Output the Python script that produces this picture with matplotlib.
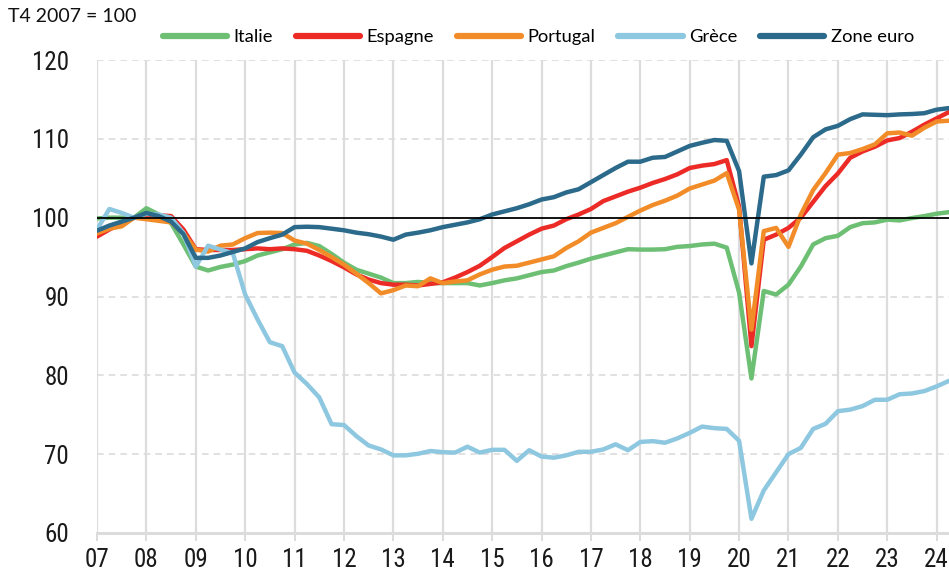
import numpy as np
import matplotlib
matplotlib.use("Agg")
import matplotlib.pyplot as plt
from matplotlib import font_manager

# ---------------- data (T4 2007 = 100), quarterly 2007 T1 .. 2024 T2 ----------------
start_year = 2007
series_names = ["Italie", "Espagne", "Portugal", "Grèce", "Zone euro"]

italie = [99.9, 100.0, 100.0, 100.0,
          101.2, 100.4, 99.3, 96.6,
          93.8, 93.3, 93.75, 94.05,
          94.5, 95.2, 95.6, 96.0,
          96.6, 96.8, 96.4, 95.4,
          94.3, 93.4, 92.9, 92.4,
          91.7, 91.7, 91.85, 91.7,
          91.7, 91.7, 91.7, 91.4,
          91.7, 92.05, 92.3, 92.7,
          93.1, 93.3, 93.85, 94.3,
          94.8, 95.2, 95.6, 96.0,
          95.95, 95.95, 96.0, 96.3,
          96.4, 96.6, 96.7, 96.2,
          90.5, 79.6, 90.7, 90.25,
          91.5, 93.8, 96.6, 97.4,
          97.7, 98.8, 99.3, 99.4,
          99.75, 99.65, 99.95, 100.2,
          100.5, 100.7]

espagne = [97.6, 98.5, 99.3, 100.0,
           100.4, 100.3, 100.2, 98.5,
           96.0, 95.9, 95.9, 95.9,
           96.0, 96.1, 96.0, 96.1,
           96.0, 95.8, 95.2, 94.5,
           93.7, 92.8, 92.15, 91.7,
           91.5, 91.5, 91.4, 91.6,
           91.8, 92.4, 93.1, 93.9,
           95.0, 96.15, 97.0, 97.85,
           98.6, 99.0, 99.8, 100.4,
           101.1, 102.1, 102.7, 103.3,
           103.8, 104.4, 104.9, 105.5,
           106.3, 106.6, 106.8, 107.3,
           101.4, 83.7, 97.2, 97.85,
           98.7, 100.0, 102.0, 104.0,
           105.6, 107.6, 108.4, 109.0,
           109.8, 110.1, 110.9, 111.8,
           112.6, 113.4]

portugal = [98.0, 98.6, 98.9, 100.0,
            99.8, 99.6, 99.4, 98.05,
            95.95, 95.7, 96.45, 96.6,
            97.4, 98.05, 98.1, 98.05,
            97.1, 96.7, 95.9, 95.0,
            94.05, 92.9, 91.7, 90.4,
            90.8, 91.4, 91.3, 92.3,
            91.7, 91.9, 92.05, 92.8,
            93.4, 93.8, 93.9, 94.3,
            94.7, 95.1, 96.15, 97.0,
            98.1, 98.7, 99.3, 100.1,
            100.9, 101.6, 102.15, 102.8,
            103.7, 104.2, 104.7, 105.65,
            101.0, 85.8, 98.3, 98.7,
            96.3, 100.4, 103.5, 105.65,
            108.0, 108.2, 108.7, 109.3,
            110.7, 110.8, 110.4, 111.4,
            112.2, 112.3]

grece = [98.5, 101.1, 100.6, 100.0,
         100.5, 100.4, 100.0, 98.05,
         93.8, 96.45, 95.95, 95.5,
         90.25, 87.1, 84.2, 83.7,
         80.35, 78.9, 77.2, 73.8,
         73.7, 72.3, 71.1, 70.6,
         69.85, 69.85, 70.05, 70.4,
         70.25, 70.2, 70.95, 70.2,
         70.55, 70.55, 69.15, 70.5,
         69.7, 69.55, 69.85, 70.3,
         70.3, 70.6, 71.25, 70.5,
         71.55, 71.65, 71.45, 72.0,
         72.7, 73.5, 73.3, 73.2,
         71.7, 61.8, 65.4, 67.7,
         70.0, 70.8, 73.2, 73.85,
         75.45, 75.65, 76.1, 76.9,
         76.9, 77.6, 77.7, 78.0,
         78.6, 79.3]

zone_euro = [98.35, 99.0, 99.5, 100.0,
             100.6, 100.2, 99.5, 97.9,
             94.9, 94.9, 95.2, 95.65,
             96.1, 96.9, 97.4, 97.85,
             98.8, 98.85, 98.8, 98.6,
             98.4, 98.1, 97.9, 97.6,
             97.2, 97.85, 98.1, 98.4,
             98.8, 99.1, 99.4, 99.8,
             100.4, 100.8, 101.2, 101.7,
             102.3, 102.6, 103.2, 103.6,
             104.5, 105.4, 106.3, 107.1,
             107.1, 107.6, 107.7, 108.4,
             109.1, 109.5, 109.85, 109.75,
             105.9, 94.2, 105.2, 105.4,
             106.0, 108.0, 110.2, 111.2,
             111.65, 112.5, 113.1, 113.05,
             113.0, 113.1, 113.15, 113.25,
             113.7, 113.9]

year_ticks = list(range(2007, 2025))
year_labels = [f"{y % 100:02d}" for y in year_ticks]
y_ticks = [60, 70, 80, 90, 100, 110, 120]

colors = ["#6dbf74", "#ec2b27", "#f28c28", "#8ec8e0", "#2b6a8a"]

# ---------------- fonts ----------------
avail = {f.name for f in font_manager.fontManager.ttflist}
fam = "DejaVu Sans"
for cand in ["Liberation Sans Narrow", "Roboto Condensed", "Open Sans Condensed", "Liberation Sans"]:
    if cand in avail:
        fam = cand
        break
plt.rcParams["font.family"] = [fam, "DejaVu Sans"]
legend_fam = "Lato" if "Lato" in avail else fam

# ---------------- figure ----------------
W, H = 949, 576
fig = plt.figure(figsize=(W / 100, H / 100), dpi=100)
ax = fig.add_axes([97 / W, 1 - 533 / H, 1 - 97 / W, (533 - 60) / H])

x = start_year + np.arange(len(zone_euro)) / 4.0
ax.set_xlim(2007, 2024.25)
ax.set_ylim(60, 120)

grid_c = "#dcdcdc"
for v in [70, 80, 90, 110, 120]:
    ax.axhline(v, color=grid_c, lw=1.2, ls=(0, (4, 3)), zorder=0)
for yr in year_ticks:
    ax.axvline(yr, color=grid_c, lw=1.6, zorder=0)

all_series = [italie, espagne, portugal, grece, zone_euro]
handles = []
for name, vals, c in zip(series_names, all_series, colors):
    h, = ax.plot(x, vals, color=c, lw=3.2, label=name, solid_joinstyle="round",
                 solid_capstyle="round", zorder=3, clip_on=True)
    handles.append(h)

ax.axhline(100, color="black", lw=1.3, zorder=6)

for s in ["left", "right", "top"]:
    ax.spines[s].set_visible(False)
ax.spines["bottom"].set_color(grid_c)
ax.spines["bottom"].set_linewidth(2.2)

ax.set_xticks(year_ticks)
ax.set_xticklabels(year_labels)
ax.set_yticks(y_ticks)
ax.set_yticklabels([str(v) for v in y_ticks])
ax.tick_params(axis="x", length=6, width=1.4, color=grid_c, labelsize=18, pad=5,
               labelcolor="#1a1a1a")
ax.tick_params(axis="y", length=0, labelsize=18, pad=20, labelcolor="#1a1a1a")

leg = fig.legend(handles=handles, labels=series_names, loc="center left",
                 bbox_to_anchor=(163 / W, 1 - 37 / H), ncol=5, frameon=False,
                 handlelength=3.5, handletextpad=0.35, columnspacing=1.25,
                 borderpad=0, borderaxespad=0,
                 prop={"family": [legend_fam, "DejaVu Sans"], "size": 13.2})
for lh in leg.get_lines():
    lh.set_linewidth(4.5)

fig.text(8 / W, 1 - 17 / H, "T4 2007 = 100", fontsize=14, ha="left", va="center",
         family=[legend_fam, "DejaVu Sans"], color="#111111")

fig.savefig("out.png", dpi=100)
